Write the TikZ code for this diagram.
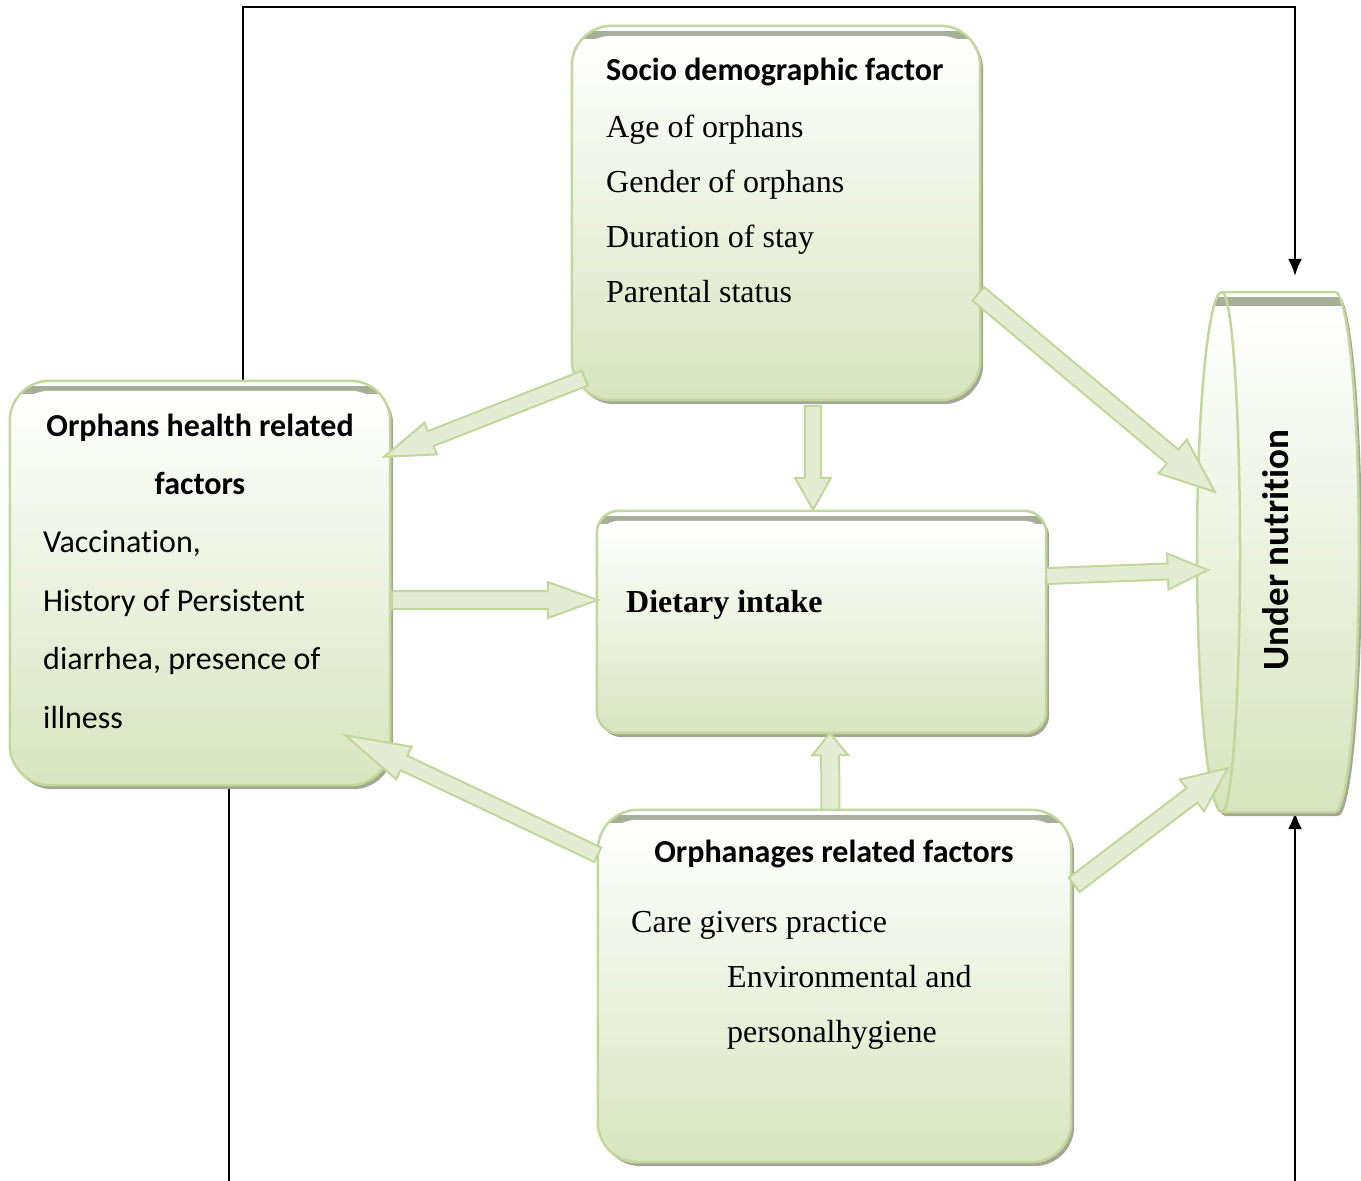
\documentclass[tikz,border=0pt]{standalone}
\usepackage{fontspec}
\setmainfont{Liberation Serif}
\setsansfont{Carlito}[Ligatures=NoCommon]
\usetikzlibrary{calc,arrows.meta}
\definecolor{gline}{HTML}{C3D69B}
\definecolor{gfill}{HTML}{D7E4BD}
\definecolor{shadowc}{HTML}{A3A895}
\definecolor{stripc}{HTML}{A8AF98}
\definecolor{afill}{HTML}{E4ECD3}
\tikzset{
  holder/.style={inner sep=0pt, minimum width=#1},
  sfb/.style={font=\fontsize{32}{38}\selectfont\sffamily\bfseries, inner sep=0pt},
  sfr/.style={font=\fontsize{32}{38}\selectfont\sffamily, inner sep=0pt},
  rmr/.style={font=\fontsize{32}{38}\selectfont\rmfamily, inner sep=0pt},
  rmb/.style={font=\fontsize{32}{38}\selectfont\rmfamily\bfseries, inner sep=0pt},
  blk/.style={line width=1.8pt, black, -{Latex[length=17pt,width=14pt]}},
  arrline/.style={draw=gline, line width=2pt, fill=afill, line join=miter},
}
% box with shadow, inner top strip, gradient
\newcommand\gbox[2]{%
  \fill[shadowc, rounded corners=#2] ($(#1.north west)+(3,4)$) rectangle ($(#1.south east)+(3,4)$);
  \begin{scope}
    \clip[rounded corners=#2] (#1.north west) rectangle (#1.south east);
    \fill[white] (#1.north west) rectangle (#1.south east);
    \fill[stripc] ($(#1.north west)+(0,5)$) rectangle ($(#1.north east)+(0,13)$);
    \shade[top color=white, bottom color=gfill, rounded corners=#2] ($(#1.north west)+(0,10)$) rectangle ($(#1.south east)+(0,10)$);
  \end{scope}
  \draw[gline, line width=2.5pt, rounded corners=#2] (#1.north west) rectangle (#1.south east);
}
% block arrow: #1 start, #2 tip, #3 shaft half width, #4 head half width, #5 head length
\newcommand\barrow[5]{%
  \coordinate (bA) at (#1); \coordinate (bB) at (#2);
  \coordinate (bC) at ($(bB)!#5pt!(bA)$);
  \fill[shadowc, shift={(2.5,3.5)}] ($(bA)!#3pt!90:(bB)$) -- ($(bC)!#3pt!90:(bB)$) -- ($(bC)!#4pt!90:(bB)$) -- (bB) -- ($(bC)!#4pt!-90:(bB)$) -- ($(bC)!#3pt!-90:(bB)$) -- ($(bA)!#3pt!-90:(bB)$) -- cycle;
  \draw[arrline] ($(bA)!#3pt!90:(bB)$) -- ($(bC)!#3pt!90:(bB)$) -- ($(bC)!#4pt!90:(bB)$) -- (bB) -- ($(bC)!#4pt!-90:(bB)$) -- ($(bC)!#3pt!-90:(bB)$) -- ($(bA)!#3pt!-90:(bB)$) -- cycle;
}
\newcommand\cylpath[2]{(1222+#1,292+#2) -- (1335+#1,292+#2) arc[start angle=90,end angle=-90,x radius=24pt,y radius=260pt] -- (1222+#1,812+#2) arc[start angle=-90,end angle=-270,x radius=25pt,y radius=260pt] -- cycle}
\begin{document}
\begin{tikzpicture}[x=1pt,y=-1pt]
\useasboundingbox (0,0) rectangle (1361,1181);
% placeholder nodes (geometry)
\node[holder=408, minimum height=374] (socio) at (776,213) {};
\node[holder=380, minimum height=404] (health) at (200,583) {};
\node[holder=449, minimum height=222] (diet) at (821.5,622) {};
\node[holder=473, minimum height=352] (orph) at (834.5,986) {};
\node[holder=160, minimum height=520] (un) at (1277,552) {};

% black feedback lines
\coordinate (tl) at ($(health.north west)+(233,-374)$);
\draw[blk] ($(health.north west)+(233,0)$) -- (tl) -| ($(un.north)+(18,-16)$);
\coordinate (br) at ($(un.south)+(18,369)$);
\draw[blk] (br) -- ($(un.south)+(18,0)$);
\coordinate (bl) at ($(health.south west)+(219,396)$);
\draw[line width=1.8pt] ($(health.south west)+(219,0)$) -- (bl);

% boxes
\gbox{socio}{40}
\gbox{health}{40}
\gbox{diet}{22}
\gbox{orph}{40}

% cylinder
\fill[shadowc] \cylpath{3}{4};
\begin{scope}
  \clip \cylpath{0}{0};
  \fill[white] (1190,292) rectangle (1361,812);
  \fill[stripc] (1190,297) rectangle (1361,309);
  \shade[top color=white, bottom color=gfill] (1190,306) rectangle (1361,812);
\end{scope}
\draw[gline, line width=2.5pt, line join=round] \cylpath{0}{0};
\draw[gline, line width=2.5pt] (1222,292) arc[start angle=90,end angle=-90,x radius=18pt,y radius=260pt];

% block arrows
\coordinate (a1s) at ($(socio.south west)+(13,-22)$);
\coordinate (a1e) at ($(health.north east)+(-6,76)$);
\barrow{a1s}{a1e}{8}{17}{50}
\coordinate (a2s) at ($(socio.south)+(37,6)$);
\coordinate (a2e) at ($(diet.north)+(-8.5,-1)$);
\barrow{a2s}{a2e}{8}{18}{32}
\coordinate (a3s) at ($(socio.north east)+(-2,268)$);
\coordinate (a3e) at ($(un.north west)+(18,200)$);
\barrow{a3s}{a3e}{9}{22}{55}
\coordinate (a4s) at ($(health.east)+(2,17)$);
\coordinate (a4e) at ($(diet.west)+(1,-22)$);
\barrow{a4s}{a4e}{9}{18}{50}
\coordinate (a5s) at ($(diet.east)+(0,-46)$);
\coordinate (a5e) at ($(un.west)+(11,18)$);
\barrow{a5s}{a5e}{8}{18}{40}
\coordinate (a6s) at ($(orph.north west)+(0,45)$);
\coordinate (a6e) at ($(health.south east)+(-45,-50)$);
\barrow{a6s}{a6e}{8}{18}{65}
\coordinate (a7s) at ($(orph.north)+(-4,0)$);
\coordinate (a7e) at ($(diet.south)+(8.5,0)$);
\barrow{a7s}{a7e}{9}{18}{22}
\coordinate (a8s) at ($(orph.north east)+(3,75)$);
\coordinate (a8e) at ($(un.south west)+(31,-44)$);
\barrow{a8s}{a8e}{9}{20}{45}

% texts
\node[sfb, anchor=base west] (t1) at (606,80) {Socio demographic factor};
\node[rmr, anchor=base west] (t2) at (606,137) {Age of orphans};
\node[rmr, anchor=base west] (t3) at (606,192) {Gender of orphans};
\node[rmr, anchor=base west] (t4) at (606,247) {Duration of stay};
\node[rmr, anchor=base west] (t5) at (606,302) {Parental status};

\node[sfb, anchor=base] (h1) at (200,436) {Orphans health related};
\node[sfb, anchor=base] (h2) at (200,494) {factors};
\node[sfr, anchor=base west] (h3) at (43,552) {Vaccination,};
\node[sfr, anchor=base west] (h4) at (43,611) {History of Persistent};
\node[sfr, anchor=base west] (h5) at (43,669) {diarrhea, presence of};
\node[sfr, anchor=base west] (h6) at (43,728) {illness};

\node[rmb, anchor=base west] (d1) at (626,612) {Dietary intake};

\node[sfb, anchor=base] (o1) at (834,862) {Orphanages related factors};
\node[rmr, anchor=base west] (o2) at (631,932) {Care givers practice};
\node[rmr, anchor=base west] (o3) at (727,987) {Environmental and};
\node[rmr, anchor=base west] (o4) at (727,1042) {personalhygiene};

\node[font=\fontsize{37}{42}\selectfont\sffamily\bfseries, inner sep=0pt, rotate=90, anchor=base] (u1) at (1288,550) {Under nutrition};
\end{tikzpicture}
\end{document}
